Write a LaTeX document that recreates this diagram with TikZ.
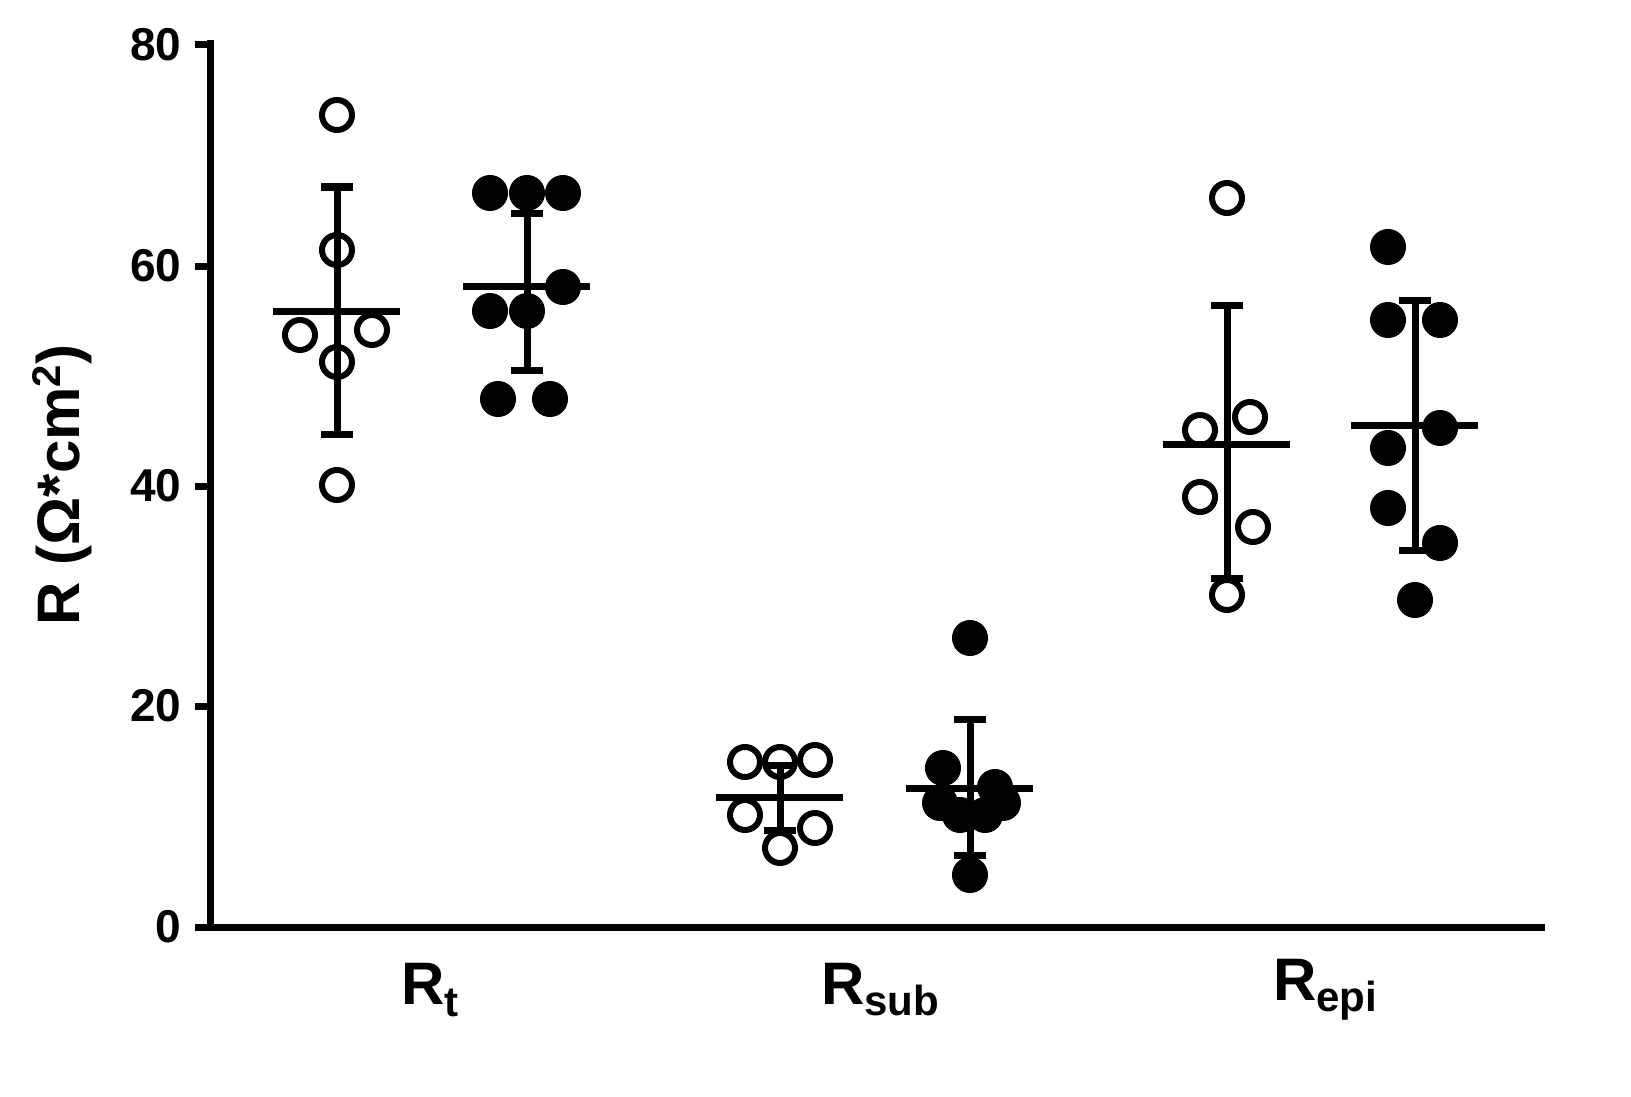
\documentclass[tikz,border=0pt]{standalone}
\usepackage{fontspec}
\setmainfont{Liberation Sans}
\begin{document}
\begin{tikzpicture}[x=1pt,y=-1pt,line width=7pt,
  op/.style={circle,draw,line width=6pt,fill=white,minimum size=30pt,inner sep=0pt},
  fp/.style={circle,draw,line width=6pt,fill=black,minimum size=30pt,inner sep=0pt},
  tick/.style={font=\bfseries\fontsize{46}{46}\selectfont,anchor=east},
  xl/.style={font=\bfseries\fontsize{60}{60}\selectfont}]
% axes
\coordinate (o) at (210,927);
\coordinate (top) at (210,40);
\coordinate (xe) at (1545,927);
\draw (top) -- (o) -- (xe);
\foreach \v/\y in {0/927,20/706,40/486,60/266,80/45}{
  \draw (195,\y) -- (210,\y);
  \node[tick] (t\v) at (188,\y) {\v};
}
\node[xl,rotate=90] (yl) at (62,485) {R (Ω*cm\raisebox{0.6ex}{\fontsize{40}{40}\selectfont 2})};
\node[xl] (x1) at (430,990) {R\raisebox{-0.35ex}{\fontsize{42}{42}\selectfont t}};
\node[xl] (x2) at (880,990) {R\raisebox{-0.35ex}{\fontsize{42}{42}\selectfont sub}};
\node[xl] (x3) at (1325,990) {R\raisebox{-0.35ex}{\fontsize{42}{42}\selectfont epi}};
% points
\foreach \p in {(337,115),(337,250),(300,335),(372,330),(337,362),(337,485),
 (745,762),(780,762),(815,760),(745,815),(815,828),(780,848),
 (1227,198),(1200,430),(1250,417),(1200,497),(1253,527),(1227,595)}
 \node[op] at \p {};
\foreach \p in {(490,193),(527,193),(563,193),(490,311),(527,311),(563,287),(498,399),(550,399),
 (970,638),(943,768),(995,787),(940,803),(1003,803),(960,815),(985,815),(970,875),
 (1388,247),(1388,320),(1440,320),(1388,448),(1440,428),(1388,508),(1440,543),(1415,600)}
 \node[fp] at \p {};
% mean and error bars
\foreach \x/\m/\lo/\hi in {337/311/434/187, 527/286/370/213, 780/797/830/765, 970/788/855/719, 1227/444/578/305, 1415/425/550/300}{
  \draw (\x-64,\m) -- (\x+63,\m);
  \draw (\x,\lo) -- (\x,\hi);
  \draw (\x-16,\lo) -- (\x+16,\lo);
  \draw (\x-16,\hi) -- (\x+16,\hi);
}
\pgfresetboundingbox
\useasboundingbox (0,0) rectangle (1631,1097);
\end{tikzpicture}
\end{document}
